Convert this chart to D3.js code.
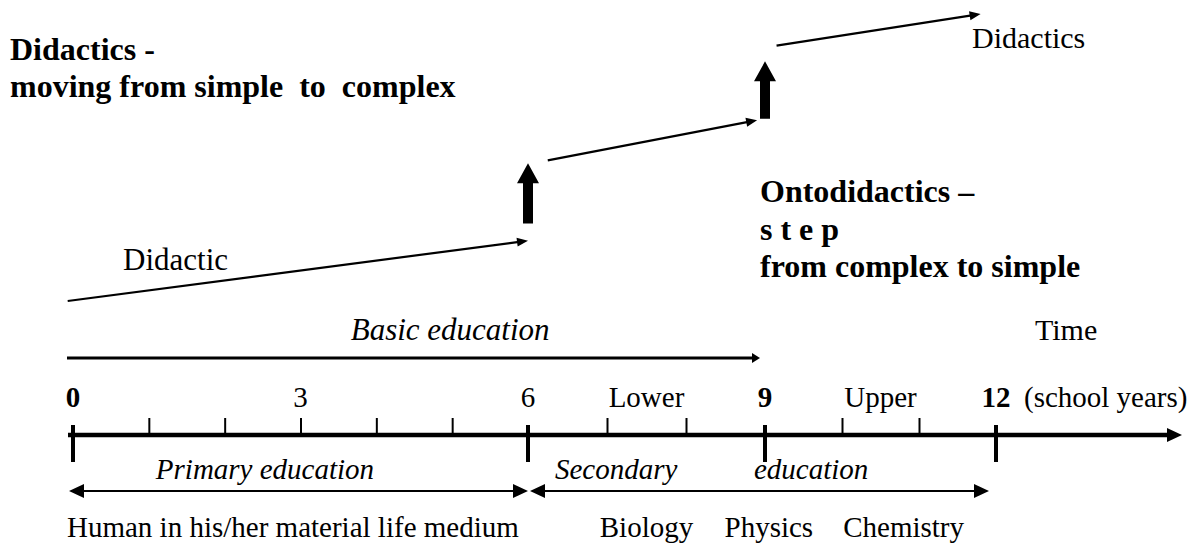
<!DOCTYPE html>
<html>
<head>
<meta charset="utf-8">
<script src="https://cdn.jsdelivr.net/npm/d3@7"></script>
<style>
  body { margin: 0; background: #fff; }
  svg { display: block; font-family: "Liberation Serif", "Times New Roman", serif; }
</style>
</head>
<body>
<script>
// school years on the time axis
const majorYears = [0, 6, 9, 12]
const minorYears = [1, 2, 3, 4, 5, 7, 8, 10, 11]
const labelYears = [0, 3, 6, 9, 12]
const labelText = ["0", "3", "6", "9", "12"]
const boldYears = [0, 9, 12]

const levelNames = ["Lower", "Upper"]
const levelMid = [7.5, 10.5]

const subjects = ["Biology", "Physics", "Chemistry"]
const subjectYears = [7.5, 9.05, 10.8]

// didactic steps: year span and complexity level (0..100) at both ends
const stepFrom = [-0.07, 6.25, 9.15]
const stepTo = [6, 8.9, 11.8]
const stepLevelFrom = [0, 49, 89]
const stepLevelTo = [21, 63, 100]

// ontodidactic jumps: year, level of base and tip
const jumpYears = [6, 9]
const jumpLow = [27, 63.5]
const jumpHigh = [48, 83.5]

const W = 1193, H = 544
const svg = d3.select('body').append('svg')
    .attr('width', W)
    .attr('height', H)

const x = d3.scaleLinear()
    .domain([0, 6, 9, 12])
    .range([73, 528, 765, 996])

const y = d3.scaleLinear()
    .domain([0, 100])
    .range([301, 14])

const axisY = 435

function head(g, x1, y1, ang, len, half) {
    const c = Math.cos(ang), s = Math.sin(ang)
    const bx = x1 - c * len, by = y1 - s * len
    g.append('path')
        .attr('d', `M${x1},${y1}L${bx - s * half},${by + c * half}L${bx + s * half},${by - c * half}Z`)
        .attr('fill', '#000')
}

function arrow(g, x0, y0, x1, y1, len, half, sw, both) {
    const ang = Math.atan2(y1 - y0, x1 - x0)
    const c = Math.cos(ang), s = Math.sin(ang)
    g.append('line')
        .attr('x1', both ? x0 + c * (len - 2) : x0).attr('y1', both ? y0 + s * (len - 2) : y0)
        .attr('x2', x1 - c * (len - 2)).attr('y2', y1 - s * (len - 2))
        .attr('stroke', '#000')
        .attr('stroke-width', sw)
    head(g, x1, y1, ang, len, half)
    if (both) head(g, x0, y0, ang + Math.PI, len, half)
}

// time axis
const ax = svg.append('g')
arrow(ax, x(0) - 5, axisY, 1182, axisY, 15, 7, 4.5, false)

const minorAxis = d3.axisTop(x)
    .tickValues(minorYears)
    .tickSize(17)
    .tickFormat('')
svg.append('g')
    .attr('transform', `translate(0, ${axisY})`)
    .call(minorAxis)
    .call(g => g.select('.domain').remove())
    .call(g => g.selectAll('.tick line').attr('stroke', '#000').attr('stroke-width', 2))

svg.selectAll('.major')
    .data(majorYears)
    .enter()
    .append('line')
    .attr('class', 'major')
    .attr('x1', d => x(d)).attr('x2', d => x(d))
    .attr('y1', axisY - 10).attr('y2', axisY + 27)
    .attr('stroke', '#000')
    .attr('stroke-width', 4)

svg.selectAll('.ylab')
    .data(labelYears)
    .enter()
    .append('text')
    .attr('class', 'ylab')
    .attr('x', d => x(d))
    .attr('y', 407)
    .attr('text-anchor', 'middle')
    .attr('font-size', 29)
    .attr('font-weight', d => boldYears.includes(d) ? 'bold' : 'normal')
    .text((d, i) => labelText[i])

svg.selectAll('.level')
    .data(levelNames)
    .enter()
    .append('text')
    .attr('x', (d, i) => x(levelMid[i]))
    .attr('y', 407)
    .attr('text-anchor', 'middle')
    .attr('font-size', 29)
    .text(d => d)

svg.append('text')
    .attr('x', x(12) + 28)
    .attr('y', 407)
    .attr('font-size', 29)
    .text('(school years)')

// education stages
const st = svg.append('g')
arrow(st, x(0) - 4, 491, x(6), 491, 15, 7, 2, true)
arrow(st, x(6) + 2, 491, x(12) - 7, 491, 15, 7, 2, true)
arrow(st, x(0) - 6, 358, x(9) - 5, 358, 8, 5, 3, false)

st.append('text')
    .attr('x', x(1) + 7).attr('y', 479)
    .attr('font-size', 29).attr('font-style', 'italic')
    .text('Primary education')
st.append('text')
    .attr('x', x(6) + 27).attr('y', 479)
    .attr('font-size', 29).attr('font-style', 'italic')
    .text('Secondary')
st.append('text')
    .attr('x', x(9) - 11).attr('y', 479)
    .attr('font-size', 29).attr('font-style', 'italic')
    .text('education')
st.append('text')
    .attr('x', x(5) - 2).attr('y', 340)
    .attr('text-anchor', 'middle')
    .attr('font-size', 31).attr('font-style', 'italic')
    .text('Basic education')
st.append('text')
    .attr('x', 1035).attr('y', 340)
    .attr('font-size', 30)
    .text('Time')

st.append('text')
    .attr('x', x(0) - 6).attr('y', 537)
    .attr('font-size', 29)
    .text('Human in his/her material life medium')

svg.selectAll('.subj')
    .data(subjects)
    .enter()
    .append('text')
    .attr('class', 'subj')
    .attr('x', (d, i) => x(subjectYears[i]))
    .attr('y', 537)
    .attr('text-anchor', 'middle')
    .attr('font-size', 29)
    .text(d => d)

// didactic steps
const steps = svg.append('g')
stepFrom.forEach((f, i) => {
    arrow(steps, x(f), y(stepLevelFrom[i]), x(stepTo[i]), y(stepLevelTo[i]), 11, 4.5, 2.2, false)
})

// ontodidactic jumps
jumpYears.forEach((yr, i) => {
    const cx = x(yr), b = y(jumpLow[i]), t = y(jumpHigh[i])
    const hh = 20
    steps.append('path')
        .attr('d', `M${cx - 5},${b}L${cx - 5},${t + hh}L${cx - 11},${t + hh}L${cx},${t}L${cx + 11},${t + hh}L${cx + 5},${t + hh}L${cx + 5},${b}Z`)
        .attr('fill', '#000')
})

// annotations
svg.append('text')
    .attr('x', 10).attr('y', 60)
    .attr('font-size', 32).attr('font-weight', 'bold')
    .text('Didactics -')
svg.append('text')
    .attr('x', 10).attr('y', 97)
    .attr('font-size', 32).attr('font-weight', 'bold')
    .style('white-space', 'pre')
    .text('moving from simple  to  complex')

svg.append('text')
    .attr('x', 123).attr('y', 270)
    .attr('font-size', 31)
    .text('Didactic')
svg.append('text')
    .attr('x', 972).attr('y', 48)
    .attr('font-size', 30)
    .text('Didactics')

const onto = ['Ontodidactics \u2013', 's t e p', 'from complex to simple']
svg.selectAll('.onto')
    .data(onto)
    .enter()
    .append('text')
    .attr('class', 'onto')
    .attr('x', 760)
    .attr('y', (d, i) => 202 + i * 37.5)
    .attr('font-size', 32)
    .attr('font-weight', 'bold')
    .text(d => d)
</script>
</body>
</html>
